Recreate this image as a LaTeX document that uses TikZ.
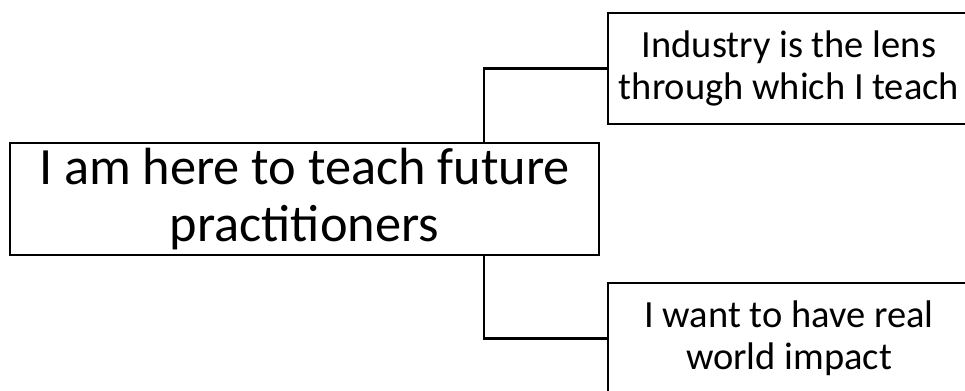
\documentclass[tikz,border=0pt]{standalone}
\usepackage{fontspec}
\setmainfont{Carlito}
\usetikzlibrary{positioning}

\begin{document}
\begin{tikzpicture}[x=0.02cm, y=-0.02cm,
  box/.style={draw, line width=1.2pt, align=center, inner sep=0pt},
  bigbox/.style={box, minimum width=11.78cm, minimum height=2.24cm,
    font=\fontsize{29.8}{32.6}\selectfont},
  sidebox/.style={box, minimum width=7.24cm, minimum height=2.22cm,
    font=\fontsize{21.9}{23.8}\selectfont},
  link/.style={line width=1.2pt}]

\path[use as bounding box, clip] (0,0) rectangle (965,390);

\coordinate (trunk) at (484,0);
\node[bigbox]  (main)   at (304.5,199)  {I am here to teach future\\practitioners};
\node[sidebox] (lens)   at (789,68.5)   {Industry is the lens\\through which I teach};
\node[sidebox] (impact) at (789,338.5)  {I want to have real\\world impact};
\draw[link] (main.north -| trunk) |- (lens.west);
\draw[link] (main.south -| trunk) |- (impact.west);
\end{tikzpicture}
\end{document}
